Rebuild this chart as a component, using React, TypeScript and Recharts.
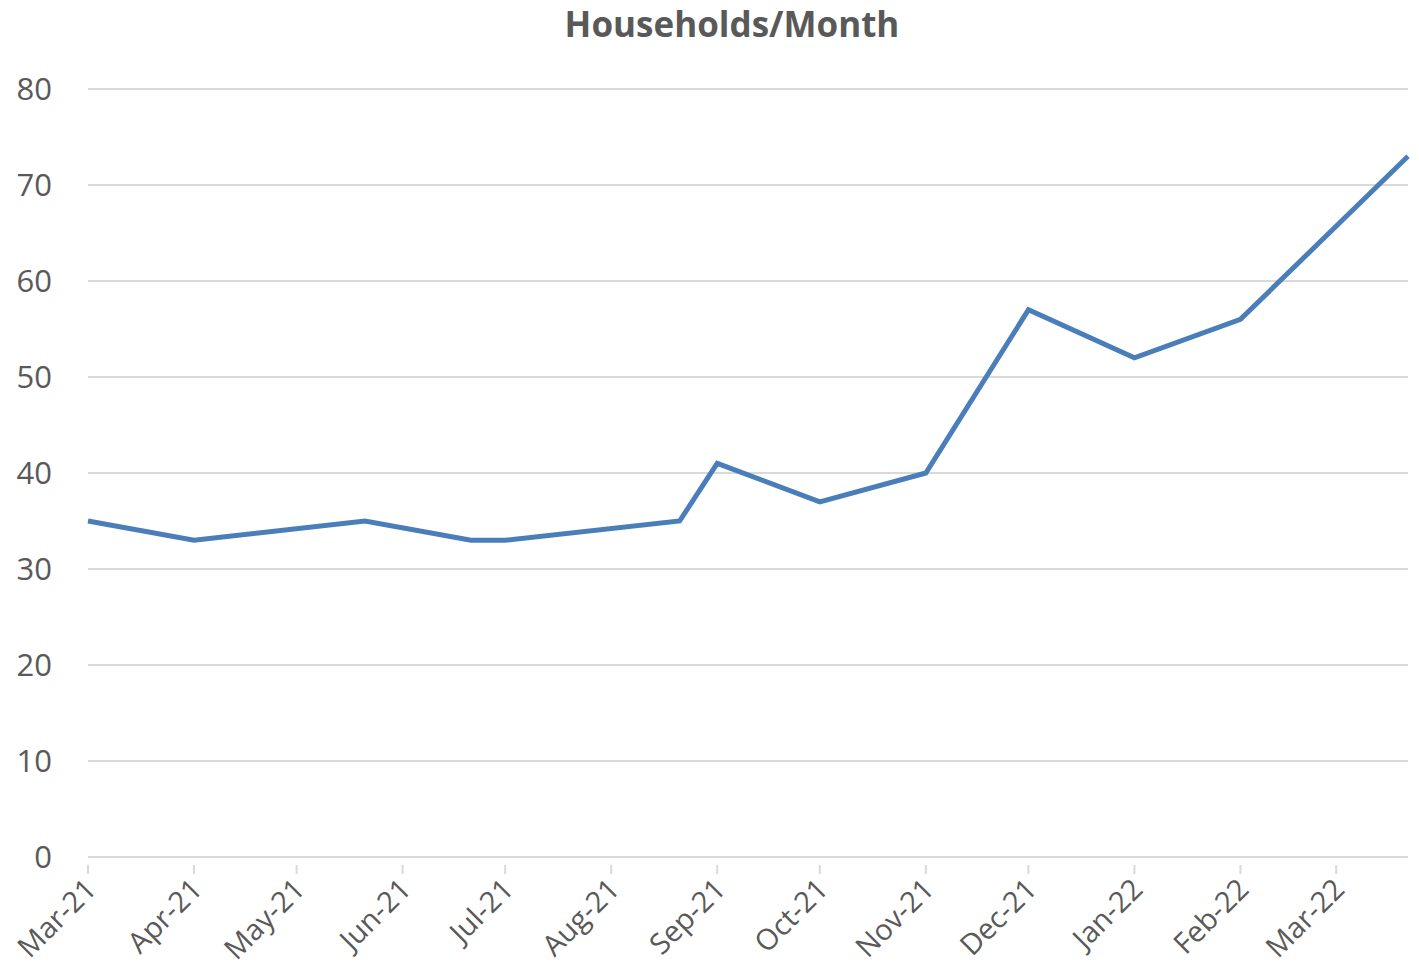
import React from "react";
import { LineChart, Line, XAxis, YAxis, CartesianGrid } from "recharts";

const DAY_MS = 24 * 60 * 60 * 1000;

const DATES = [
  "2021-03-01", "2021-04-01", "2021-05-21", "2021-06-21", "2021-07-01",
  "2021-08-21", "2021-09-01", "2021-10-01", "2021-11-01", "2021-12-01",
  "2022-01-01", "2022-02-01", "2022-03-22",
];
const HOUSEHOLDS = [35, 33, 35, 33, 33, 35, 41, 37, 40, 57, 52, 56, 73];

const MONTH_TICKS = [
  "2021-03-01", "2021-04-01", "2021-05-01", "2021-06-01", "2021-07-01",
  "2021-08-01", "2021-09-01", "2021-10-01", "2021-11-01", "2021-12-01",
  "2022-01-01", "2022-02-01", "2022-03-01",
];
const MONTH_LABELS = [
  "Mar-21", "Apr-21", "May-21", "Jun-21", "Jul-21", "Aug-21", "Sep-21",
  "Oct-21", "Nov-21", "Dec-21", "Jan-22", "Feb-22", "Mar-22",
];
const Y_TICKS = [0, 10, 20, 30, 40, 50, 60, 70, 80];

const toDay = (s: string) => Date.parse(s + "T00:00:00Z") / DAY_MS;

const chartData = DATES.map((d, i) => ({ day: toDay(d), value: HOUSEHOLDS[i] }));
const xTicks = MONTH_TICKS.map(toDay);
const labelFor = (day: number) => MONTH_LABELS[xTicks.indexOf(day)] ?? "";

const FONT = "'Open Sans', 'Noto Sans', sans-serif";
const GREY = "#595959";

function XTick(props: any) {
  const { x, y, payload } = props;
  return (
    <g>
      <line x1={x} y1={y} x2={x} y2={y + 9} stroke="#d9d9d9" strokeWidth={2} />
      <text
        x={x + 10}
        y={y + 26}
        transform={`rotate(-45 ${x + 10} ${y + 26})`}
        textAnchor="end"
        fill={GREY}
        fontSize={29}
        fontFamily={FONT}
      >
        {labelFor(payload.value)}
      </text>
    </g>
  );
}

function YTick(props: any) {
  const { y, payload } = props;
  return (
    <text x={52} y={y + 11} textAnchor="end" fill={GREY} fontSize={31} fontFamily={FONT}>
      {payload.value}
    </text>
  );
}

export default function App() {
  return (
    <div style={{ position: "absolute", left: 0, top: 0, width: 1419, height: 973, background: "#fff" }}>
      <div
        style={{
          position: "absolute",
          left: 0,
          width: 1464,
          top: 0,
          textAlign: "center",
          fontFamily: FONT,
          fontWeight: 700,
          fontSize: 35,
          color: GREY,
        }}
      >
        Households/Month
      </div>
      <LineChart width={1419} height={973} data={chartData} margin={{ top: 89, right: 11, left: 0, bottom: 0 }}>
        <CartesianGrid vertical={false} stroke="#d9d9d9" strokeWidth={2} />
        <XAxis
          dataKey="day"
          type="number"
          domain={[toDay("2021-03-01"), toDay("2022-03-22")]}
          ticks={xTicks}
          interval={0}
          tick={<XTick />}
          tickLine={false}
          axisLine={{ stroke: "#d9d9d9", strokeWidth: 2 }}
          height={116}
        />
        <YAxis
          domain={[0, 80]}
          ticks={Y_TICKS}
          width={88}
          axisLine={false}
          tickLine={false}
          tick={<YTick />}
        />
        <Line
          type="linear"
          dataKey="value"
          stroke="#4a7ebb"
          strokeWidth={5}
          dot={false}
          isAnimationActive={false}
        />
      </LineChart>
    </div>
  );
}
